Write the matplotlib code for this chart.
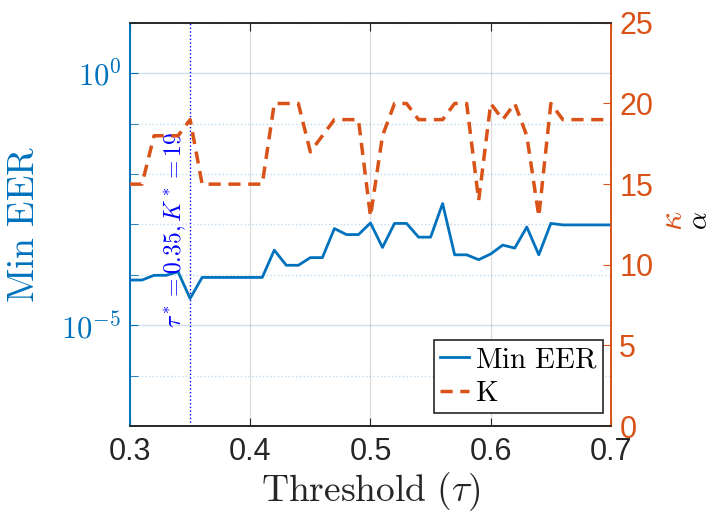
import numpy as np
import matplotlib
matplotlib.use('Agg')
import matplotlib.pyplot as plt
from matplotlib.ticker import LogLocator, NullFormatter
from matplotlib.lines import Line2D

plt.rcParams['font.family'] = ['Liberation Sans', 'DejaVu Sans']
plt.rcParams['mathtext.fontset'] = 'cm'

# data
thresholds = [0.30, 0.31, 0.32, 0.33, 0.34, 0.35, 0.36, 0.37, 0.38, 0.39,
              0.40, 0.41, 0.42, 0.43, 0.44, 0.45, 0.46, 0.47, 0.48, 0.49,
              0.50, 0.51, 0.52, 0.53, 0.54, 0.55, 0.56, 0.57, 0.58, 0.59,
              0.60, 0.61, 0.62, 0.63, 0.64, 0.65, 0.66, 0.67, 0.68, 0.69, 0.70]
min_eer = [7.9e-5, 7.9e-5, 9.8e-5, 9.8e-5, 1.15e-4, 3.4e-5, 8.9e-5, 8.9e-5, 8.9e-5, 8.9e-5,
           8.9e-5, 8.9e-5, 3.1e-4, 1.55e-4, 1.55e-4, 2.2e-4, 2.2e-4, 8.3e-4, 6.3e-4, 6.3e-4,
           1.07e-3, 3.5e-4, 1.05e-3, 1.05e-3, 5.6e-4, 5.6e-4, 2.6e-3, 2.5e-4, 2.5e-4, 2.0e-4,
           2.6e-4, 3.9e-4, 3.4e-4, 8.9e-4, 2.5e-4, 1.05e-3, 9.8e-4, 9.8e-4, 9.8e-4, 9.8e-4, 9.8e-4]
k_vals = [15, 15, 18, 18, 18, 19, 15, 15, 15, 15,
          15, 15, 20, 20, 20, 17, 18, 19, 19, 19,
          13, 18, 20, 20, 19, 19, 19, 20, 20, 14,
          20, 19, 20, 18, 13, 20, 19, 19, 19, 19, 19]
best_tau = 0.35
xticks = [0.3, 0.4, 0.5, 0.6, 0.7]
k_ticks = [0, 5, 10, 15, 20, 25]

blue = '#0072BD'
orange = '#D95319'
dark = '#262626'

fig = plt.figure(figsize=(7.17, 5.19), dpi=100)
ax = fig.add_axes([0.1813, 0.179, 0.6708, 0.777])

ax.plot(thresholds, min_eer, color=blue, lw=2, zorder=3)
ax.set_yscale('log')
ax.set_ylim(1e-7, 1e1)
ax.set_xlim(0.3, 0.7)
ax.set_xticks(xticks, labels=['%.1f' % v for v in xticks])
ax.set_yticks([1e-5, 1e0], labels=[r'$\mathsf{10^{-5}}$', r'$\mathsf{10^{0}}$'])
ax.yaxis.set_minor_locator(LogLocator(base=10, subs=(1.0,), numticks=20))
ax.yaxis.set_minor_formatter(NullFormatter())

ax.grid(True, which='major', axis='x', color=dark, alpha=0.15, lw=1)
ax.grid(True, which='major', axis='y', color=blue, alpha=0.2, lw=1)
ax.grid(True, which='minor', axis='y', color=blue, alpha=0.25, lw=1, ls=':')

ax.axvline(best_tau, color='blue', ls=':', lw=1, zorder=2)
ax.text(best_tau - 0.0015, 10**-3.1, r'$\tau^* = 0.35, K^* = 19$', rotation=90,
        color='blue', fontsize=17, ha='right', va='center')

ax.tick_params(axis='x', which='both', direction='in', top=True, length=6,
               labelsize=22, colors=dark, pad=8)
ax.tick_params(axis='y', which='both', direction='in', length=6,
               labelsize=22, colors=blue, pad=6)
ax.set_xlabel(r'$\mathrm{Threshold}\ (\tau)$', fontsize=27, color=dark, labelpad=2)
ax.set_ylabel(r'$\mathrm{Min\ EER}$', fontsize=27, color=blue, labelpad=14)

ax2 = ax.twinx()
ax2.plot(thresholds, k_vals, color=orange, lw=2.5, ls=(0, (3.5, 2.2)), zorder=3)
ax2.set_ylim(0, 25)
ax2.set_yticks(k_ticks)
ax2.tick_params(axis='y', direction='in', length=6, labelsize=22, colors=orange, pad=6)

for a in (ax, ax2):
    a.spines['left'].set_color(blue)
    a.spines['right'].set_color(orange)
    a.spines['top'].set_color(dark)
    a.spines['bottom'].set_color(dark)
    for s in a.spines.values():
        s.set_linewidth(1.2)

# right axis labels (kappa in orange, alpha in black beside it)
fig.text(674 / 717, 1 - 221 / 519, r'$\kappa$', rotation=90, color=orange,
         fontsize=24, ha='center', va='center')
fig.text(700 / 717, 1 - 221 / 519, r'$\alpha$', rotation=90, color='black',
         fontsize=20, ha='center', va='center')

handles = [Line2D([], [], color=blue, lw=2),
           Line2D([], [], color=orange, lw=2.5, ls=(0, (3.5, 2.2)))]
leg = ax2.legend(handles, [r'$\mathrm{Min\ EER}$', r'$\mathrm{K}$'],
                 loc='lower right', bbox_to_anchor=(603 / 717, 1 - 413 / 519),
                 bbox_transform=fig.transFigure, borderaxespad=0, fontsize=21,
                 fancybox=False, framealpha=1, edgecolor=dark,
                 handlelength=1.0, handletextpad=0.2, borderpad=0.2, labelspacing=0.2)
leg.get_frame().set_linewidth(1.2)

fig.savefig('out.png', dpi=100)
